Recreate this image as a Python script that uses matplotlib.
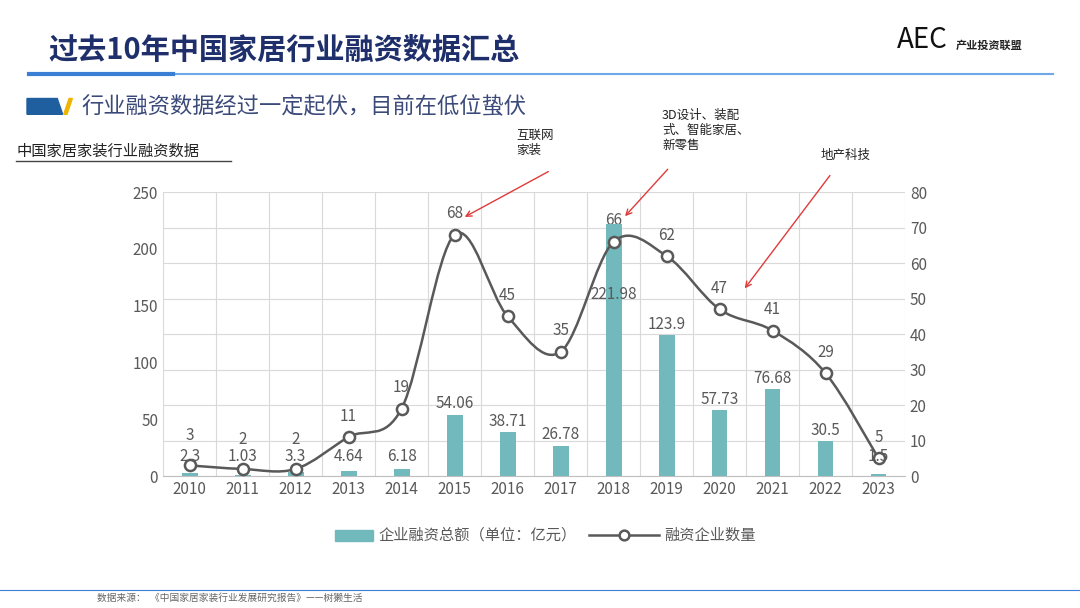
import matplotlib.pyplot as plt
from matplotlib.path import Path
from matplotlib.patches import PathPatch, Polygon
import numpy as np

plt.rcParams['font.family'] = ['Noto Sans CJK SC', 'DejaVu Sans']

years = ['2010', '2011', '2012', '2013', '2014', '2015', '2016', '2017',
         '2018', '2019', '2020', '2021', '2022', '2023']
amounts = [2.3, 1.03, 3.3, 4.64, 6.18, 54.06, 38.71, 26.78, 221.98, 123.9, 57.73, 76.68, 30.5, 1.5]
counts = [3, 2, 2, 11, 19, 68, 45, 35, 66, 62, 47, 41, 29, 5]

fig = plt.figure(figsize=(10.8, 6.08), dpi=100)
fig.patch.set_facecolor('white')

# header
fig.text(0.045, 0.918, '过去10年中国家居行业融资数据汇总', fontsize=21, fontweight='bold',
         color='#1f2f6b', va='center')
fig.text(0.83, 0.935, 'AEC', fontsize=20, style='italic', color='#111111', va='center')
fig.text(0.885, 0.925, '产业投资联盟', fontsize=8, fontweight='bold', color='#222222', va='center')
fig.add_artist(plt.Line2D([0.027, 0.975], [0.878, 0.878], color='#6fa8e8', lw=1.5))
fig.add_artist(plt.Line2D([0.027, 0.16], [0.878, 0.878], color='#3a7fd5', lw=3))
fig.add_artist(Polygon([[0.025, 0.812], [0.058, 0.812], [0.053, 0.838], [0.025, 0.838]],
                       closed=True, color='#1f5fa0', transform=fig.transFigure))
fig.add_artist(Polygon([[0.059, 0.812], [0.062, 0.812], [0.067, 0.838], [0.064, 0.838]],
                       closed=True, color='#f0b400', transform=fig.transFigure))
fig.text(0.075, 0.825, '行业融资数据经过一定起伏，目前在低位蛰伏', fontsize=16,
         color='#3b4a7a', va='center')
fig.text(0.015, 0.752, '中国家居家装行业融资数据', fontsize=11, color='#222222', va='center')
fig.add_artist(plt.Line2D([0.015, 0.214], [0.736, 0.736], color='#444444', lw=1))

ax = fig.add_axes([0.151, 0.217, 0.687, 0.467])
x = np.arange(len(years))
ax.bar(x, amounts, width=0.3, color='#72b9bd', zorder=2)
ax.set_ylim(0, 250)
ax.set_yticks(range(0, 251, 50))
ax.set_xlim(-0.5, len(years) - 0.5)
ax.set_xticks(x)
ax.set_xticklabels(years)
ax.set_xticks(np.arange(-0.5, len(years), 1), minor=True)
ax.grid(True, which='minor', axis='x', color='#d9d9d9', lw=0.8)
ax.tick_params(axis='both', which='both', length=0, colors='#595959', labelsize=11)
for s in ax.spines.values():
    s.set_visible(False)
ax.spines['bottom'].set_visible(True)
ax.spines['bottom'].set_color('#bfbfbf')

ax2 = ax.twinx()
ax2.set_ylim(0, 80)
ax2.set_yticks(range(0, 81, 10))
ax2.grid(True, axis='y', color='#d9d9d9', lw=0.8)
ax2.tick_params(length=0, colors='#595959', labelsize=11)
for s in ax2.spines.values():
    s.set_visible(False)
ax.set_zorder(ax2.get_zorder() + 1)
ax.patch.set_visible(False)

# smooth line via cubic bezier segments (Catmull-Rom tangents)
pts = np.column_stack([x, counts]).astype(float)
verts = [pts[0]]
codes = [Path.MOVETO]
for i in range(len(pts) - 1):
    p0 = pts[i - 1] if i > 0 else pts[i]
    p3 = pts[i + 2] if i + 2 < len(pts) else pts[i + 1]
    c1 = pts[i] + (pts[i + 1] - p0) / 6
    c2 = pts[i + 1] - (p3 - pts[i]) / 6
    verts += [c1, c2, pts[i + 1]]
    codes += [Path.CURVE4] * 3
ax.add_patch(PathPatch(Path(verts, codes), transform=ax2.transData, fill=False,
                       edgecolor='#595959', lw=1.8, zorder=3))
ax.plot(x, np.array(counts) * 250 / 80, 'o', ms=8, mfc='white', mec='#595959', mew=1.8, zorder=4)

for i, v in enumerate(counts):
    off = 6 if i < 3 else 3.5
    ax2.text(i, v + off, str(v), ha='center', va='bottom', fontsize=11, color='#595959', zorder=5)
for i, v in enumerate(amounts):
    ypos = 221.98 - 70 if i == 8 else max(v, 8) + 2
    ax.text(i, ypos, f'{v:g}', ha='center', va='bottom', fontsize=11, color='#595959', zorder=5)

# annotations
ann = [('互联网\n家装', (0.478, 0.765), (0.51, 0.72), (0.428, 0.641)),
       ('3D设计、装配\n式、智能家居、\n新零售', (0.613, 0.785), (0.62, 0.725), (0.577, 0.641)),
       ('地产科技', (0.76, 0.745), (0.77, 0.715), (0.688, 0.522))]
for txt, tpos, start, apos in ann:
    fig.text(tpos[0], tpos[1], txt, fontsize=9, color='#222222', va='center')
    ax.annotate('', xy=apos, xycoords='figure fraction', xytext=start,
                textcoords='figure fraction',
                arrowprops=dict(arrowstyle='->', color='#e03a3a', lw=1))

# legend
fig.add_artist(plt.Rectangle((0.31, 0.11), 0.035, 0.018, color='#72b9bd', transform=fig.transFigure))
fig.text(0.35, 0.12, '企业融资总额（单位：亿元）', fontsize=11, color='#595959', va='center')
fig.add_artist(plt.Line2D([0.545, 0.61], [0.12, 0.12], color='#595959', lw=1.8))
fig.add_artist(plt.Line2D([0.5775], [0.12], marker='o', ms=7, mfc='white', mec='#595959', mew=1.8))
fig.text(0.615, 0.12, '融资企业数量', fontsize=11, color='#595959', va='center')

fig.text(0.09, 0.012, '数据来源：  《中国家居家装行业发展研究报告》——树獭生活', fontsize=7,
         style='italic', color='#666666')
fig.add_artist(plt.Line2D([0.0, 1.0], [0.03, 0.03], color='#3a7fd5', lw=0.8))

fig.savefig('out.png', dpi=100)
